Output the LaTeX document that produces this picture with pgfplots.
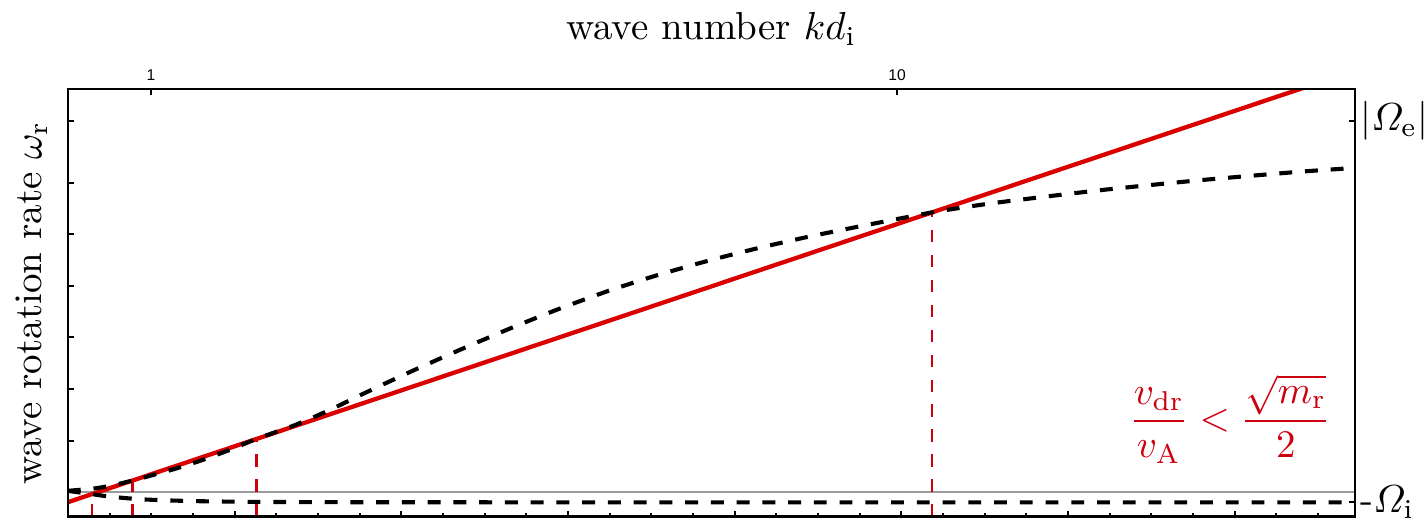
\documentclass[border=0pt]{standalone}
\usepackage{fontspec}
\usepackage{amsmath}
\usepackage{pgfplots}
\pgfplotsset{compat=1.18}
\usetikzlibrary{calc}
\newfontfamily\ticksans{Liberation Sans}
\definecolor{linered}{RGB}{218,0,0}
\definecolor{markred}{RGB}{205,0,15}
\definecolor{zerogray}{RGB}{155,155,155}

% upper (right-hand) branch of the dispersion relation
\pgfplotstableread{
kd      w
0.7738  26
0.8031  27
0.8335  28
0.8811  31
0.9451  36.3
0.9969  41
1.0769  48
1.1633  56
1.2760  67
1.3859  78
1.5601  91.8
1.7378  107
1.9296  123.4
2.2246  144.9
2.5958  167.1
3.0384  188.8
3.5015  207.2
4.0860  225.5
4.7098  240.4
5.5121  255
6.4326  267.8
7.5283  279.4
8.6761  288.8
10.124  298.6
11.142  304.5
11.998  308.4
13.745  314.7
18.720  326.7
25.478  336.7
34.696  345.2
41.11   349
}\upperbranch

% lower (left-hand) branch
\pgfplotstableread{
kd      w
0.7738  26
0.8031  24.3
0.8335  22.7
0.8675  20.8
0.9088  19.2
0.9666  17.6
1.0442  16.5
1.1633  15.6
1.3578  15.0
1.8483  14.6
3.9986  14.5
41.11   14.5
}\lowerbranch

\begin{document}
\begin{tikzpicture}
\begin{axis}[
  name=main,
  scale only axis, width=330pt, height=109.7pt,
  xmode=log, xmin=0.7738, xmax=41.11,
  ymin=0, ymax=428,
  xtick={1,10}, xticklabels={1,10},
  xtick pos=right, xticklabel pos=right,
  xminorticks=false, yminorticks=false,
  ytick={76,128,180,231,283,334,396}, yticklabels={},
  ytick pos=left,
  tick align=inside,
  major tick length=1.5pt,
  every tick/.style={black, line width=0.5pt},
  xticklabel style={font=\ticksans\fontsize{4}{5}\selectfont, inner sep=2pt},
  axis line style={line width=0.7pt},
]
\coordinate (bl) at (rel axis cs:0,0);
\coordinate (tr) at (rel axis cs:1,1);
\coordinate (tc) at (rel axis cs:0.5,1);
\coordinate (lc) at (rel axis cs:0,0.5);

% zero line
\addplot[zerogray, line width=0.45pt] coordinates {(0.7738,24.5) (41.11,24.5)};

% resonance markers
\addplot[markred, line width=0.65pt, dash pattern=on 3.2pt off 3.2pt] coordinates {(0.8335,0) (0.8335,22.6)};
\addplot[markred, line width=0.65pt, dash pattern=on 3.2pt off 3.2pt] coordinates {(0.9451,0) (0.9451,36.3)};
\addplot[markred, line width=0.65pt, dash pattern=on 3.2pt off 3.2pt] coordinates {(1.3859,0) (1.3859,77.9)};
\addplot[markred, line width=0.65pt, dash pattern=on 3.2pt off 3.2pt] coordinates {(11.142,0) (11.142,304.5)};

% drift line
\addplot[linered, line width=1.1pt] coordinates {(0.7738,14.6) (41.11,446.4)};

% dispersion branches
\addplot[black, line width=1.05pt, dash pattern=on 3.3pt off 3.3pt, smooth, tension=0.4] table[x=kd,y=w] {\upperbranch};
\addplot[black, line width=1.05pt, dash pattern=on 3.3pt off 3.3pt, smooth, tension=0.4] table[x=kd,y=w] {\lowerbranch};

\node[text=markred, anchor=base] at (axis cs:27.95,86.25)
  {$\displaystyle\frac{v_\mathrm{dr}}{v_\mathrm{A}}<\frac{\sqrt{m_\mathrm{r}}}{2}$};
\end{axis}

% bottom scale ticks and right-hand frequency marks
\begin{axis}[
  scale only axis, width=330pt, height=109.7pt,
  xmin=0, xmax=30.888, ymin=0, ymax=428,
  xtick={0,4,...,28}, minor xtick={1,...,30}, xticklabels={},
  xtick pos=left,
  ytick={15,396},
  yticklabels={-$\varOmega_\mathrm{i}$, $|\varOmega_\mathrm{e}|$},
  yticklabel style={inner sep=1.2pt},
  ytick pos=right, yticklabel pos=right,
  tick align=inside,
  major tick length=1.6pt, minor tick length=0.9pt,
  every tick/.style={black, line width=0.5pt},
  axis line style={line width=0.7pt},
]
\end{axis}

\node[anchor=base] at ($(tc)+(0,12.6pt)$) {wave number $kd_\mathrm{i}$};
\node[rotate=90, anchor=base] at ($(lc)+(-6.7pt,0)$) {wave rotation rate $\omega_\mathrm{r}$};

\pgfresetboundingbox
\path[use as bounding box] ($(bl)+(-17.4pt,-1pt)$) rectangle ($(tr)+(18.2pt,22.8pt)$);
\end{tikzpicture}
\end{document}
